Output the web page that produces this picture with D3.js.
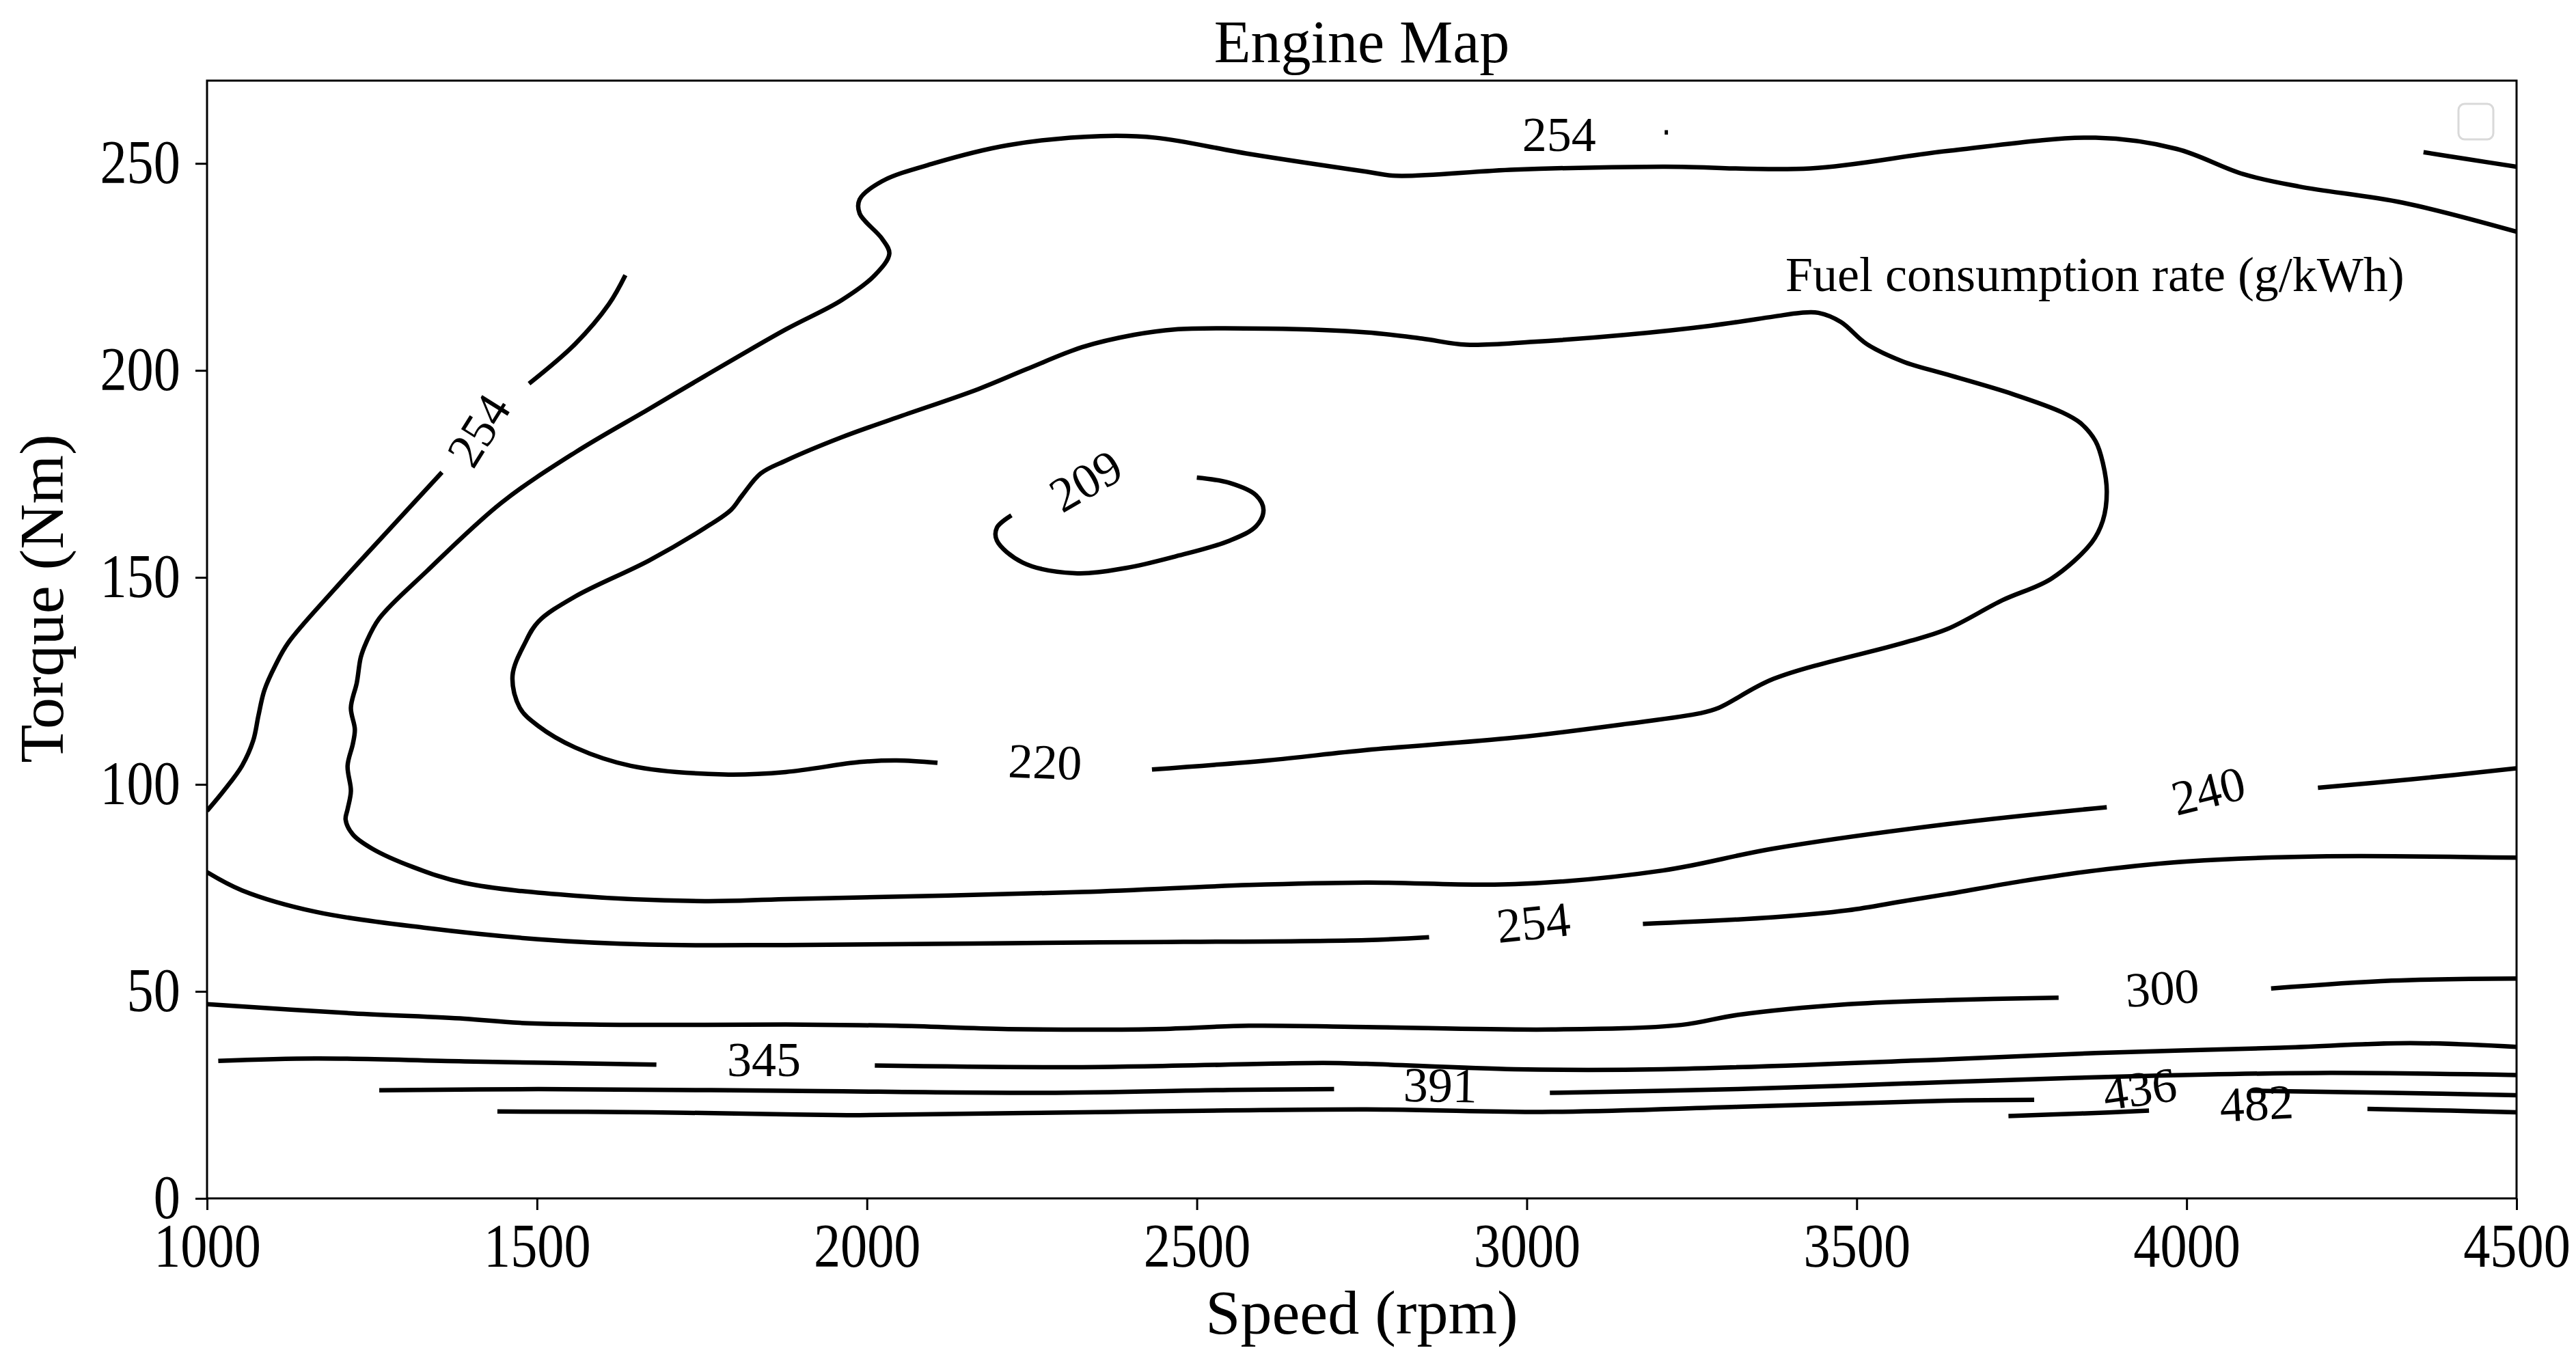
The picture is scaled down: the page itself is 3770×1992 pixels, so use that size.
<!DOCTYPE html>
<html>
<head>
<meta charset="utf-8">
<script src="https://cdn.jsdelivr.net/npm/d3@7"></script>
<style>
  body { margin: 0; background: #fff; }
  svg text { font-family: "Liberation Serif", "Times New Roman", serif; fill: #000; }
</style>
</head>
<body>
<div id="engine-map"></div>
<script>
// tick values
var speedTicks = [1000, 1500, 2000, 2500, 3000, 3500, 4000, 4500];
var torqueTicks = [0, 50, 100, 150, 200, 250];

// contour pieces, [speed rpm, torque Nm]
var c209 = [[2219,165.0],[2197,162.0],[2197,158.9],[2236,153.6],[2315,151.0],[2393,152.3],[2466,155.0],
            [2550,158.9],[2590,162.4],[2601,166.3],[2590,169.8],[2550,172.8],[2500,174.1]];

var c220 = [[2432,103.6],[2607,105.8],[2757,108.3],[2982,111.3],[3150,114.6],[3263,117.2],[3291,118.5],
            [3374,125.5],[3571,134.2],[3637,137.5],[3721,144.5],[3795,149.7],[3856,158.4],[3873,163.7],
            [3879,170.7],[3873,177.7],[3862,182.9],[3839,187.3],[3811,189.9],[3738,194.2],[3637,199.0],
            [3571,202.1],[3515,206.4],[3476,211.7],[3442,213.9],[3414,213.9],[3374,213.0],[3279,210.8],
            [3150,208.6],[3010,206.9],[2908,206.2],[2841,207.7],[2757,209.2],[2607,210.1],[2466,209.9],
            [2405,208.6],[2326,205.6],[2242,200.3],[2169,195.5],[2045,188.6],[1961,183.8],[1877,178.2],
            [1839,175.1],[1811,169.8],[1794,166.3],[1754,161.9],[1670,154.1],[1558,145.4],[1502,139.3],
            [1482,134.2],[1463,126.3],[1474,118.5],[1502,114.1],[1558,108.9],[1642,104.5],[1783,102.4],
            [1877,103.0],[1989,105.4],[2045,105.8],[2107,105.2]];

var c240a = [[4500,233.5],[4328,240.5],[4171,244.4],[4086,247.4],[3985,253.5],[3862,256.2],[3637,253.0],
             [3430,248.8],[3206,249.2],[2982,248.5],[2802,247.0],[2757,248.0],[2579,252.3],[2438,256.2],
             [2354,256.6],[2214,254.4],[2101,250.0],[2023,245.7],[1989,241.3],[1989,237.9],[2023,231.8],
             [2034,228.2],[2012,223.0],[1961,216.9],[1877,209.9],[1754,198.6],[1670,190.7],[1558,180.2],
             [1446,168.0],[1333,151.5],[1261,140.1],[1241,134.2],[1233,130.7],[1227,124.6],[1218,118.5],
             [1224,113.3],[1221,109.8],[1213,104.5],[1218,98.4],[1213,94.0],[1210,91.5],[1221,87.9],
             [1250,84.5],[1311,80.1],[1390,76.2],[1558,73.1],[1754,71.8],[1877,72.3],[2326,74.0],
             [2579,75.7],[2757,76.3],[2982,75.9],[3206,79.2],[3374,84.5],[3637,90.4],[3879,94.5]];
var c240b = [[4199,99.2],[4339,101.2],[4500,103.9]];

var c254a = [[1634,223.0],[1609,216.0],[1558,206.4],[1488,196.8]];
var c254b = [[1356,175.4],[1278,161.9],[1193,147.1],[1123,134.2],[1104,128.9],[1087,122.8],[1078,116.7],
             [1070,110.6],[1053,104.5],[1025,98.4],[1000,93.6]];
var c254c = [[1000,78.8],[1053,74.4],[1165,69.2],[1333,65.3],[1502,62.6],[1670,61.3],[1877,61.2],
             [2326,61.8],[2757,62.4],[2852,63.1]];
var c254d = [[3176,66.3],[3374,67.9],[3487,69.6],[3571,71.8],[3637,73.5],[3749,76.6],[3862,79.2],
             [4002,81.4],[4199,82.6],[4500,82.3]];
var c254e = [[4359,252.7],[4423,251.1],[4500,249.2]];
var c254f = [[3209,257.5],[3214,257.5]];

var c300a = [[1000,46.9],[1221,44.7],[1390,43.4],[1474,42.4],[1670,41.9],[1877,42.0],[2045,41.7],
             [2214,40.9],[2438,40.9],[2579,41.7],[2757,41.4],[3038,40.8],[3234,41.9],[3319,44.3],
             [3487,46.9],[3637,47.9],[3806,48.5]];
var c300b = [[4128,50.7],[4311,52.6],[4500,53.1]];

var c345a = [[1017,33.2],[1165,33.8],[1390,33.1],[1681,32.3]];
var c345b = [[2012,32.1],[2326,31.7],[2691,32.7],[2757,32.5],[2982,31.2],[3206,31.2],[3637,33.6],
             [3862,35.1],[4142,36.4],[4339,37.5],[4500,36.6]];

var c391a = [[1261,26.1],[1502,26.4],[1877,26.0],[2270,25.5],[2550,26.2],[2708,26.4]];
var c391b = [[3035,25.5],[3319,26.4],[3637,28.1],[3918,29.5],[4199,30.3],[4500,29.8]];

var c436a = [[1440,21.0],[1670,20.8],[1877,20.3],[1989,20.1],[2326,20.8],[2757,21.5],[3038,20.9],
             [3319,22.1],[3637,23.6],[3769,23.8]];
var c436b = [[4098,26.0],[4311,25.5],[4500,24.9]];

var c482a = [[3730,19.9],[3840,20.5],[3943,21.2]];
var c482b = [[4274,21.6],[4400,21.2],[4500,20.8]];

var contours = [c209, c220, c240a, c240b, c254a, c254b, c254c, c254d, c254e, c254f,
                c300a, c300b, c345a, c345b, c391a, c391b, c436a, c436b, c482a, c482b];

// inline contour labels
var labelValues  = ["209", "220", "254", "254", "254", "240", "300", "345", "391", "436", "482"];
var labelSpeeds  = [2332, 2270, 1412, 3010, 3049, 4033, 3963, 1844, 2869, 3929, 4106];
var labelTorques = [173.3, 105.4, 185.5, 66.6, 257.0, 98.4, 50.8, 33.5, 27.3, 26.4, 22.9];
var labelAngles  = [-30, 2, -58, -6, 0, -14, -4, 0, 1, -8, -3];

// set the dimensions of the canvas
var margin = {top: 118, right: 87, bottom: 238, left: 303},
    width = 3770 - margin.left - margin.right,
    height = 1992 - margin.top - margin.bottom;

// set the ranges
var x = d3.scaleLinear().domain([1000, 4500]).range([0, width]);
var y = d3.scaleLinear().domain([0, 270]).range([height, 0]);

var svgRoot = d3.select("#engine-map")
    .append("svg")
    .attr("width", width + margin.left + margin.right)
    .attr("height", height + margin.top + margin.bottom);

var svg = svgRoot.append("g")
    .attr("transform", "translate(" + margin.left + "," + margin.top + ")");

svg.append("clipPath").attr("id", "plot-clip")
   .append("rect").attr("width", width).attr("height", height);

// contour lines
var line = d3.line()
    .x(function(d) { return x(d[0]); })
    .y(function(d) { return y(d[1]); })
    .curve(d3.curveCatmullRom.alpha(0.5));

svg.append("g")
   .attr("clip-path", "url(#plot-clip)")
   .selectAll("path")
   .data(contours)
   .enter()
   .append("path")
   .attr("d", line)
   .attr("fill", "none")
   .attr("stroke", "#000")
   .attr("stroke-width", 6.5);

// contour labels
svg.append("g")
   .selectAll("text")
   .data(labelValues)
   .enter()
   .append("text")
   .attr("transform", function(d, i) {
     return "translate(" + x(labelSpeeds[i]) + "," + y(labelTorques[i]) + ") rotate(" + labelAngles[i] + ")";
   })
   .attr("text-anchor", "middle")
   .attr("dominant-baseline", "central")
   .style("font-size", "72px")
   .text(function(d) { return d; });

// axes
var xAxis = svg.append("g")
   .attr("transform", "translate(0," + height + ")")
   .call(d3.axisBottom(x).tickValues(speedTicks).tickFormat(d3.format("d")).tickSize(17).tickPadding(19));

var yAxis = svg.append("g")
   .call(d3.axisLeft(y).tickValues(torqueTicks).tickFormat(d3.format("d")).tickSize(17).tickPadding(28));

[xAxis, yAxis].forEach(function(ax) {
  ax.select(".domain").remove();
  ax.selectAll(".tick line").attr("stroke", "#000").attr("stroke-width", 3);
  ax.selectAll(".tick text")
    .attr("fill", "#000")
    .attr("transform", "scale(0.87,1)")
    .style("font-family", "'Liberation Serif', serif")
    .style("font-size", "90px");
});

// frame
svg.append("rect")
   .attr("width", width)
   .attr("height", height)
   .attr("fill", "none")
   .attr("stroke", "#000")
   .attr("stroke-width", 3);

// empty legend box
svgRoot.append("rect")
   .attr("x", 3598).attr("y", 152)
   .attr("width", 51).attr("height", 52)
   .attr("rx", 9)
   .attr("fill", "#fff")
   .attr("stroke", "#d9d9d9")
   .attr("stroke-width", 3);

// texts
svg.append("text")
   .attr("x", width / 2).attr("y", -27)
   .attr("text-anchor", "middle")
   .style("font-size", "88px")
   .text("Engine Map");

svg.append("text")
   .attr("x", width / 2).attr("y", height + 198)
   .attr("text-anchor", "middle")
   .style("font-size", "92px")
   .text("Speed (rpm)");

svgRoot.append("text")
   .attr("transform", "translate(92," + (margin.top + height / 2 - 60) + ") rotate(-90)")
   .attr("text-anchor", "middle")
   .style("font-size", "92px")
   .text("Torque (Nm)");

svgRoot.append("text")
   .attr("x", 2613).attr("y", 426)
   .style("font-size", "72px")
   .text("Fuel consumption rate (g/kWh)");
</script>
</body>
</html>
